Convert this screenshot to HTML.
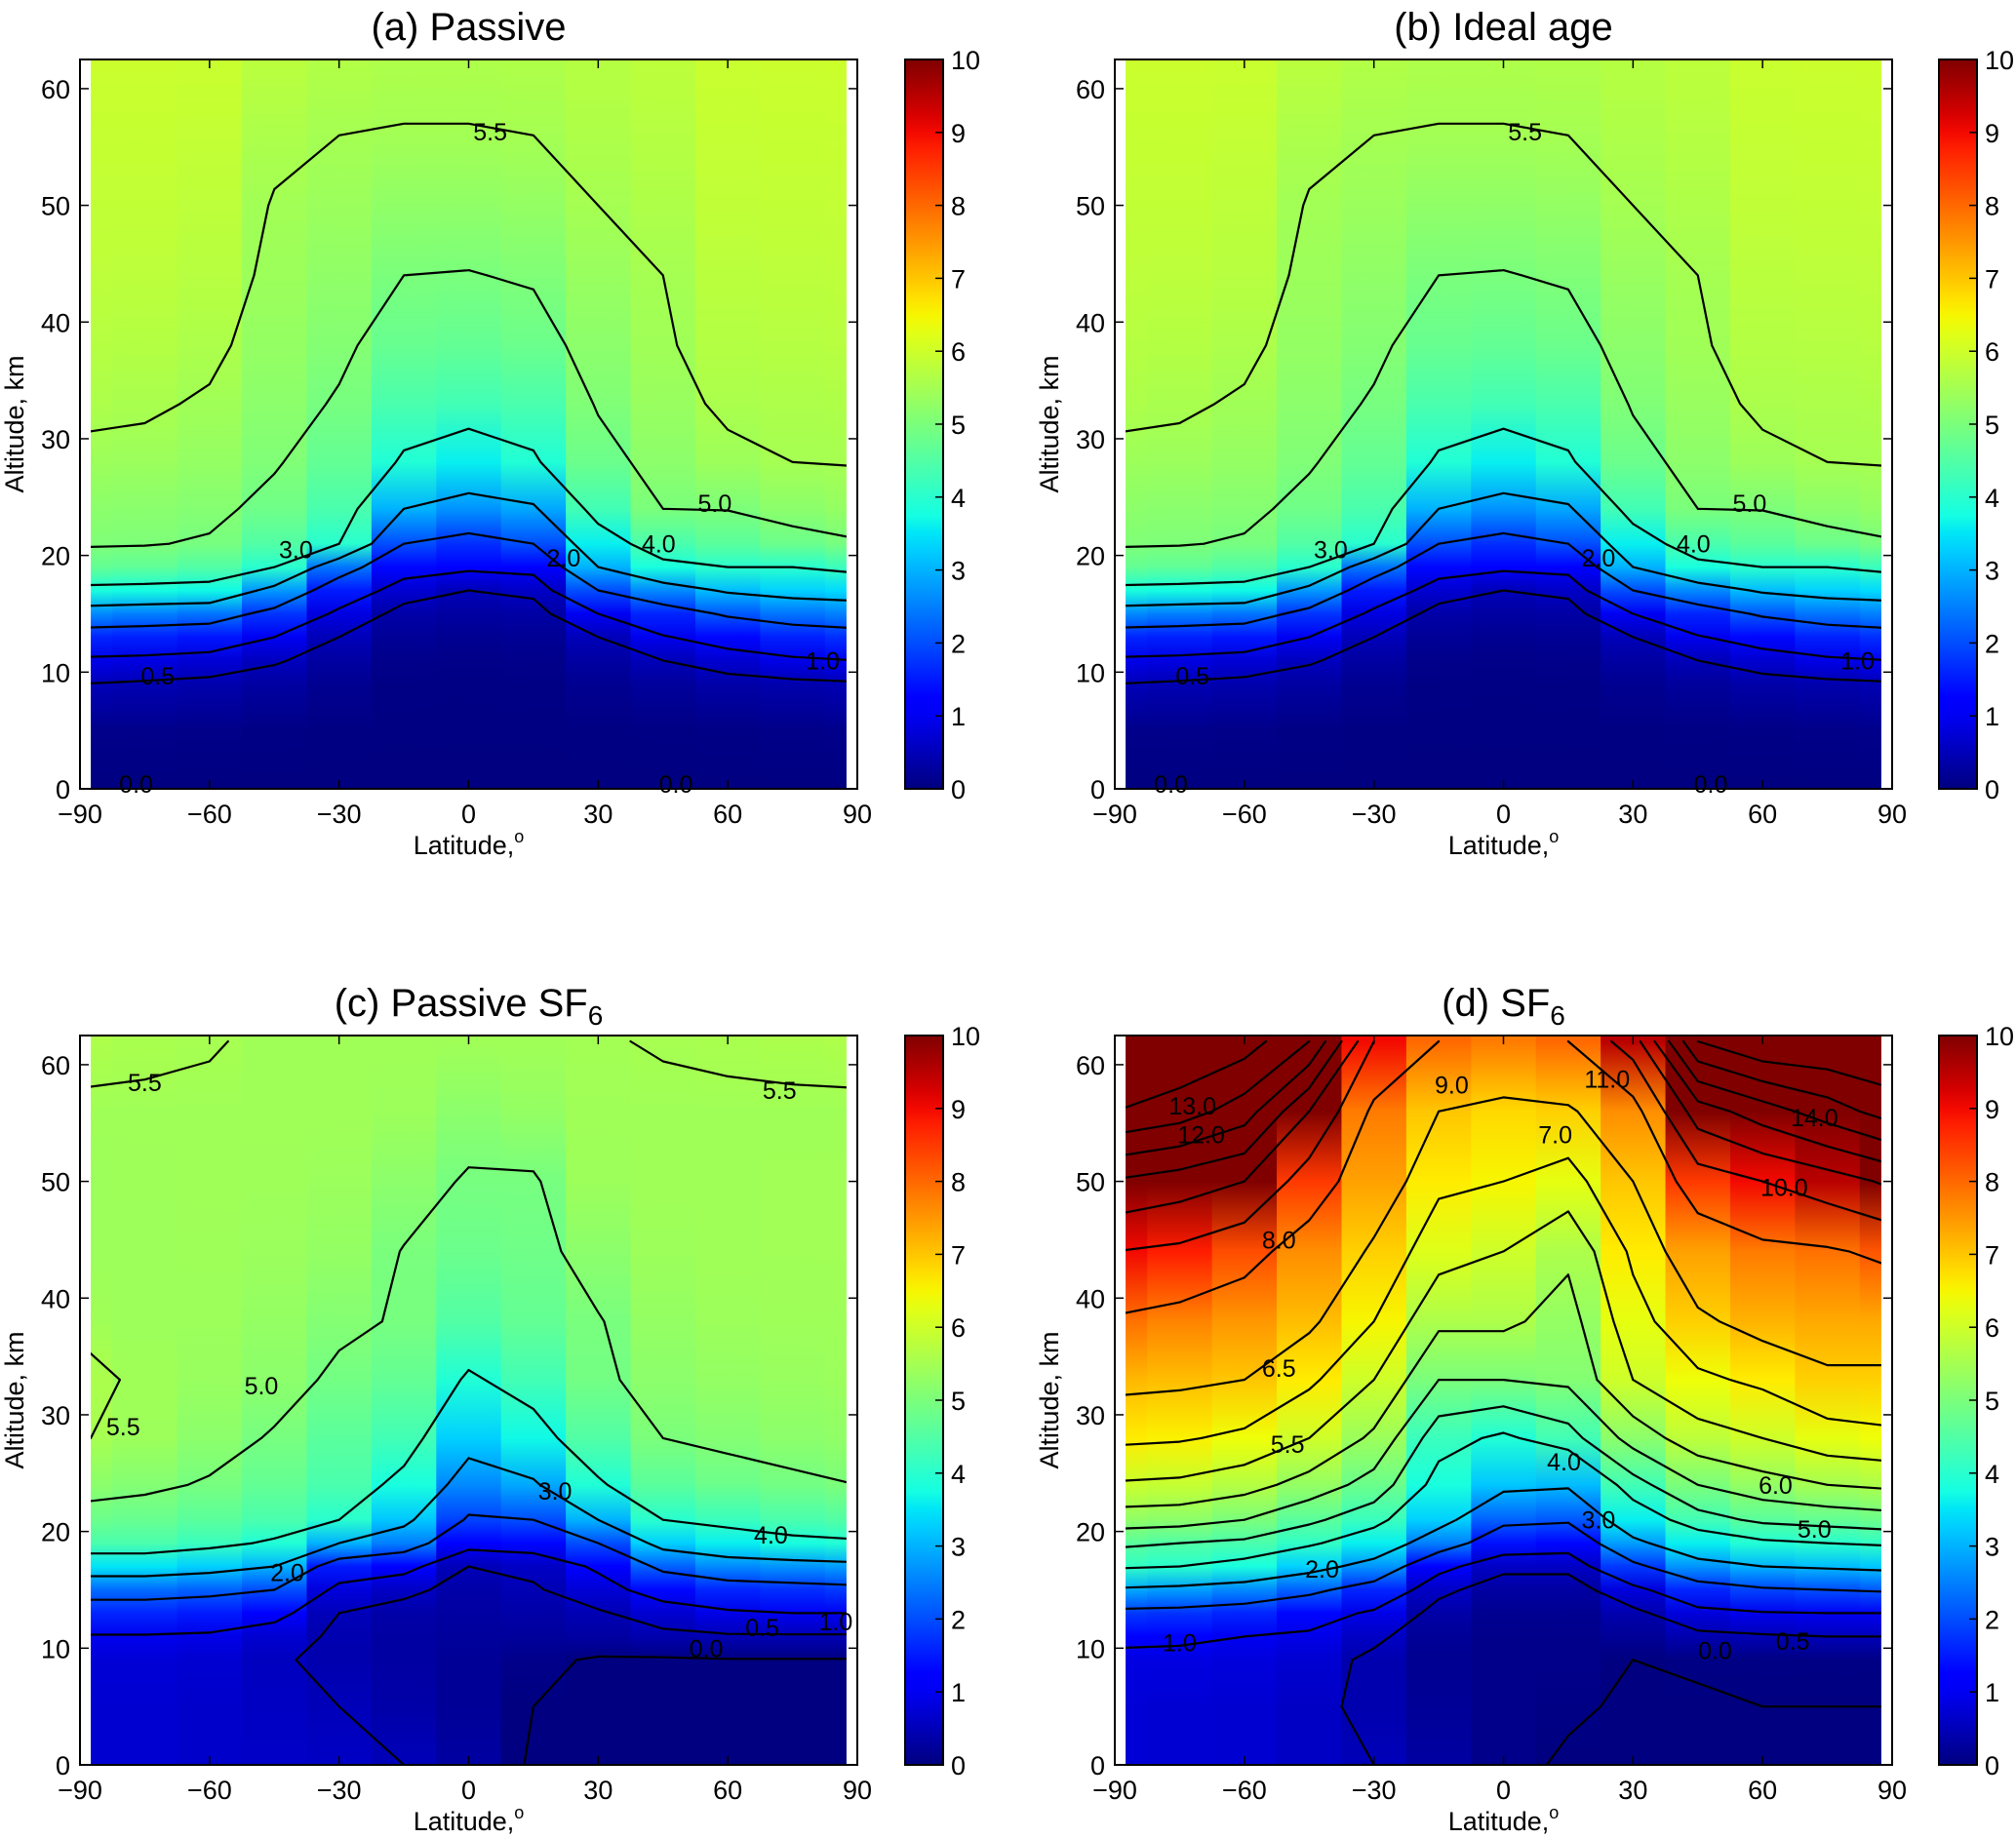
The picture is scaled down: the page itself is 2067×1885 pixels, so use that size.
<!DOCTYPE html>
<html><head><meta charset="utf-8"><style>
html,body{margin:0;padding:0;background:#fff;}
svg{display:block;font-family:"Liberation Sans","DejaVu Sans",sans-serif;}
</style></head><body>
<svg id="fig" width="2067" height="1885" viewBox="0 0 2067 1885" xmlns="http://www.w3.org/2000/svg">
<defs id="defs"></defs>
</svg>
<script>
const LATS=[-90,-75,-60,-45,-30,-15,0,15,30,45,60,75,90];
const ALTS=[0,5,9,11,13,15,17,19,21,24,28,33,38,44,50,56,62];
const XTICKS=[-90,-60,-30,0,30,60,90];
const YTICKS=[0,10,20,30,40,50,60];
const CBTICKS=[0,1,2,3,4,5,6,7,8,9,10];
// values per latitude column (rows follow ALTS)
const passiveVals=[
[0,0.1,0.5,0.9,1.6,2.6,3.8,4.7,5.05,5.2,5.4,5.6,5.7,5.8,5.85,5.9,5.95],
[0,0.1,0.45,0.85,1.55,2.5,3.75,4.65,5.03,5.18,5.38,5.56,5.68,5.78,5.85,5.9,5.95],
[0,0.08,0.4,0.75,1.45,2.4,3.7,4.5,4.95,5.12,5.3,5.45,5.6,5.72,5.8,5.87,5.93],
[0,0.05,0.3,0.55,1.0,1.75,2.75,4.0,4.5,4.85,5.05,5.2,5.3,5.4,5.47,5.6,5.75],
[0,0.03,0.15,0.3,0.5,0.85,1.5,2.4,4.0,4.4,4.7,4.95,5.1,5.25,5.38,5.5,5.65],
[0,0.02,0.05,0.1,0.2,0.35,0.7,1.3,2.0,3.0,3.9,4.4,4.75,5.0,5.25,5.48,5.6],
[0,0.02,0.04,0.08,0.15,0.3,0.5,1.1,1.7,2.7,3.6,4.3,4.7,4.98,5.25,5.48,5.6],
[0,0.02,0.05,0.1,0.18,0.32,0.6,1.2,2.0,2.9,3.9,4.4,4.8,5.05,5.3,5.5,5.62],
[0,0.03,0.15,0.3,0.5,1.0,2.0,3.0,3.6,4.3,4.8,5.05,5.2,5.35,5.5,5.62,5.7],
[0,0.04,0.25,0.5,0.95,1.6,2.6,3.8,4.4,5.0,5.2,5.35,5.45,5.5,5.62,5.7,5.78],
[0,0.06,0.35,0.7,1.3,2.1,3.1,4.0,4.6,5.02,5.4,5.58,5.68,5.76,5.83,5.88,5.93],
[0,0.08,0.4,0.9,1.55,2.4,3.3,4.0,4.8,5.2,5.5,5.6,5.7,5.78,5.85,5.9,5.95],
[0,0.1,0.45,1.0,1.7,2.5,3.4,4.2,4.95,5.3,5.52,5.62,5.72,5.8,5.86,5.91,5.96]];
const ageVals=[
[0,0.1,0.5,0.9,1.6,2.6,3.8,4.7,5.05,5.2,5.4,5.6,5.7,5.8,5.85,5.9,5.95],
[0,0.1,0.45,0.85,1.55,2.5,3.75,4.65,5.03,5.18,5.38,5.56,5.68,5.78,5.85,5.9,5.95],
[0,0.08,0.4,0.75,1.45,2.4,3.7,4.5,4.95,5.12,5.3,5.45,5.6,5.72,5.8,5.87,5.93],
[0,0.05,0.3,0.55,1.0,1.75,2.75,4.0,4.5,4.85,5.05,5.2,5.3,5.4,5.47,5.6,5.75],
[0,0.03,0.15,0.3,0.5,0.85,1.5,2.4,4.0,4.4,4.7,4.95,5.1,5.25,5.38,5.5,5.65],
[0,0.02,0.05,0.1,0.2,0.35,0.7,1.3,2.0,3.0,3.9,4.4,4.75,5.0,5.25,5.48,5.6],
[0,0.02,0.04,0.08,0.15,0.3,0.5,1.1,1.7,2.7,3.6,4.3,4.7,4.98,5.25,5.48,5.6],
[0,0.02,0.05,0.1,0.18,0.32,0.6,1.2,2.0,2.9,3.9,4.4,4.8,5.05,5.3,5.5,5.62],
[0,0.03,0.15,0.3,0.5,1.0,2.0,3.0,3.6,4.3,4.8,5.05,5.2,5.35,5.5,5.62,5.7],
[0,0.04,0.25,0.5,0.95,1.6,2.6,3.8,4.4,5.0,5.2,5.35,5.45,5.5,5.62,5.7,5.78],
[0,0.06,0.35,0.7,1.3,2.1,3.1,4.0,4.6,5.02,5.4,5.58,5.68,5.76,5.83,5.88,5.93],
[0,0.08,0.4,0.9,1.55,2.4,3.3,4.0,4.8,5.2,5.5,5.6,5.7,5.78,5.85,5.9,5.95],
[0,0.1,0.45,1.0,1.7,2.5,3.4,4.2,4.95,5.3,5.52,5.62,5.72,5.8,5.86,5.91,5.96]];
const passiveSf6Vals=[
[0.7,0.7,0.75,0.95,1.6,2.3,3.5,4.4,4.8,5.2,5.52,5.58,5.45,5.4,5.4,5.45,5.6],
[0.7,0.7,0.75,0.95,1.6,2.3,3.5,4.4,4.75,5.1,5.4,5.45,5.4,5.4,5.42,5.45,5.56],
[0.65,0.65,0.7,0.9,1.5,2.2,3.3,4.2,4.6,4.95,5.2,5.35,5.4,5.42,5.45,5.45,5.52],
[0.62,0.58,0.55,0.7,1.2,2.0,3.0,3.9,4.4,4.7,4.95,5.2,5.3,5.38,5.42,5.45,5.45],
[0.6,0.5,0.4,0.42,0.5,0.8,1.5,3.0,4.0,4.4,4.6,4.9,5.1,5.3,5.38,5.45,5.45],
[0.5,0.35,0.3,0.3,0.35,0.6,1.2,2.5,3.2,3.8,4.3,4.7,4.95,4.98,5.2,5.4,5.45],
[0.3,0.2,0.2,0.25,0.3,0.35,0.5,1.2,1.9,2.6,3.3,3.9,4.5,4.8,4.95,5.2,5.45],
[-0.05,0.0,0.1,0.25,0.35,0.45,0.6,1.3,2.0,2.9,3.7,4.3,4.7,4.85,4.95,5.3,5.45],
[-0.1,-0.1,-0.05,0.3,0.45,0.75,1.1,2.0,3.0,3.9,4.5,4.9,4.97,5.2,5.4,5.45,5.48],
[-0.1,-0.1,-0.05,0.4,0.7,1.3,2.2,3.3,4.0,4.6,5.0,5.2,5.3,5.4,5.45,5.45,5.52],
[-0.1,-0.1,-0.02,0.45,0.9,1.6,2.6,3.6,4.2,4.8,5.1,5.3,5.4,5.45,5.45,5.45,5.55],
[-0.1,-0.1,-0.02,0.45,1.0,1.7,2.7,3.8,4.4,4.9,5.2,5.35,5.42,5.46,5.46,5.45,5.58],
[-0.1,-0.1,-0.02,0.45,1.0,1.8,2.8,3.9,4.5,5.0,5.25,5.38,5.42,5.46,5.46,5.45,5.6]];
const sf6Vals=[
[0.75,0.75,0.85,1.15,1.8,2.9,4.1,4.6,5.25,5.95,6.6,7.15,7.9,9.0,10.9,14,15],
[0.72,0.72,0.85,1.1,1.75,2.8,4.0,4.5,5.2,5.9,6.55,7.1,7.7,8.8,10.5,13.5,15],
[0.7,0.7,0.8,1.0,1.6,2.6,3.8,4.4,5.0,5.7,6.4,7.0,7.5,8.3,10.0,12.5,14.5],
[0.6,0.6,0.7,0.9,1.3,2.2,3.3,4.1,4.6,5.3,6.0,6.6,7.1,7.6,8.5,10,13],
[0.5,0.4,0.4,0.6,0.9,1.6,2.7,3.6,4.2,4.8,5.4,6.0,6.5,6.9,7.4,7.8,9],
[0.3,0.2,0.15,0.2,0.35,0.6,1.2,2.5,3.3,3.8,4.2,5.0,5.6,6.2,6.6,7.0,8],
[0.1,0.1,0.1,0.1,0.15,0.3,0.6,1.4,2.2,3.2,3.9,5.0,5.6,6.0,6.5,6.8,7.8],
[-0.05,0.05,0.1,0.1,0.15,0.3,0.6,1.3,2.1,3.1,4.3,5.1,5.3,5.6,6.3,6.9,8.0],
[-0.05,-0.05,0.0,0.2,0.4,0.8,1.8,2.8,3.6,4.3,5.2,6.0,6.3,6.6,7.0,7.6,9.5],
[-0.05,-0.05,0.05,0.4,0.8,1.6,2.7,3.6,4.3,5.0,5.8,6.4,6.9,7.4,8.5,10.5,14],
[0.0,0.0,0.05,0.45,0.95,1.9,3.0,3.9,4.6,5.3,6.0,6.6,7.2,7.8,9.0,11.5,15],
[0.0,0.0,0.05,0.5,1.0,2.0,3.1,4.0,4.7,5.5,6.3,6.9,7.3,7.9,9.5,12.5,15],
[0.0,0.0,0.05,0.5,1.0,2.1,3.2,4.1,4.8,5.6,6.4,6.9,7.3,8.2,10.2,13.5,15]];
const levelsAB=[0.5,1,2,3,4,5,5.5];
const levelsC=[0,0.5,1,2,3,4,5,5.5];
const levelsD=[0,0.5,1,2,3,4,4.5,5,5.5,6,6.5,7,8,9,10,11,12,13,14];
const labelsA=[["5.5",5,56.3],["5.0",57,24.5],["4.0",44,21],["2.0",22,19.8],["3.0",-40,20.5],["1.0",82,11],["0.5",-72,9.7],["0.0",-77,0.4],["0.0",48,0.4]];
const labelsB=[["5.5",5,56.3],["5.0",57,24.5],["4.0",44,21],["2.0",22,19.8],["3.0",-40,20.5],["1.0",82,11],["0.5",-72,9.7],["0.0",-77,0.4],["0.0",48,0.4]];
const labelsC=[["5.5",-75,58.5],["5.5",72,57.8],["5.0",-48,32.5],["5.5",-80,29],["3.0",20,23.5],["4.0",70,19.7],["2.0",-42,16.5],["0.5",68,11.8],["1.0",85,12.3],["0.0",55,10]];
const labelsD=[["13.0",-72,56.5],["12.0",-70,54],["9.0",-12,58.3],["11.0",24,58.8],["14.0",72,55.5],["7.0",12,54],["10.0",65,49.5],["8.0",-52,45],["6.5",-52,34],["5.5",-50,27.5],["4.0",14,26],["3.0",22,21],["6.0",63,24],["5.0",72,20.2],["2.0",-42,16.8],["1.0",-75,10.5],["0.5",67,10.6],["0.0",49,9.8]];

const panels=[
 {key:"a",title:"(a) Passive",sub:"",vals:passiveVals,levels:levelsAB,labels:labelsA,x0:82,x1:879,y0:61,y1:809,cb:928},
 {key:"b",title:"(b) Ideal age",sub:"",vals:ageVals,levels:levelsAB,labels:labelsB,x0:1143,x1:1940,y0:61,y1:809,cb:1988},
 {key:"c",title:"(c) Passive SF",sub:"6",vals:passiveSf6Vals,levels:levelsC,labels:labelsC,x0:82,x1:879,y0:1062,y1:1810,cb:928},
 {key:"d",title:"(d) SF",sub:"6",vals:sf6Vals,levels:levelsD,labels:labelsD,x0:1143,x1:1940,y0:1062,y1:1810,cb:1988}
];
const NS="http://www.w3.org/2000/svg";
const svg=document.getElementById('fig');
const defs=document.getElementById('defs');
function mk(tag,attrs,parent){const e=document.createElementNS(NS,tag);for(const k in attrs)e.setAttribute(k,attrs[k]);(parent||svg).appendChild(e);return e;}
function interp(pts,t){if(t<=pts[0][0])return pts[0][1];for(let i=1;i<pts.length;i++){if(t<=pts[i][0]){const a=pts[i-1],b=pts[i];return a[1]+(b[1]-a[1])*(t-a[0])/(b[0]-a[0]);}}return pts[pts.length-1][1];}
function jet(v){let t=Math.max(0,Math.min(1,v/10));
 const r=interp([[0,0],[0.35,0],[0.66,1],[0.89,1],[1,0.5]],t);
 const g=interp([[0,0],[0.125,0],[0.375,1],[0.64,1],[0.91,0],[1,0]],t);
 const b=interp([[0,0.5],[0.11,1],[0.34,1],[0.65,0],[1,0]],t);
 return `rgb(${Math.round(r*255)},${Math.round(g*255)},${Math.round(b*255)})`;}
const YMAX=62.5;
panels.forEach(p=>{
 const sx=lat=>p.x0+(lat+90)/180*(p.x1-p.x0);
 const sy=alt=>p.y1-alt/YMAX*(p.y1-p.y0);
 const g=mk('g',{});
 
 
 const clipId='clip'+p.key;
 const cp=mk('clipPath',{id:clipId},defs);
 mk('rect',{x:sx(-87.5),y:p.y0,width:sx(87.5)-sx(-87.5),height:p.y1-p.y0},cp);
 const hm=mk('g',{'clip-path':`url(#${clipId})`},g);
 
 
 LATS.forEach((lat,i)=>{
  const gid='grad'+p.key+i;
  const lg=mk('linearGradient',{id:gid,x1:0,y1:1,x2:0,y2:0},defs);
  ALTS.forEach((alt,j)=>{mk('stop',{offset:(alt/YMAX).toFixed(4),'stop-color':jet(p.vals[i][j])},lg);});
  const l0=i===0?-90:(LATS[i-1]+lat)/2, l1=i===LATS.length-1?90:(LATS[i+1]+lat)/2;
  const r=mk('rect',{x:sx(l0),y:p.y0,width:sx(l1)-sx(l0)+0.5,height:p.y1-p.y0,fill:`url(#${gid})`},hm);
  
  
 });
 const cg=mk('g',{'clip-path':`url(#${clipId})`,fill:'none',stroke:'#000','stroke-width':2.2},g);
 
 
 p.levels.forEach(L=>{
  let d='';
  for(let i=0;i<LATS.length-1;i++)for(let j=0;j<ALTS.length-1;j++){
   const v00=p.vals[i][j],v10=p.vals[i+1][j],v11=p.vals[i+1][j+1],v01=p.vals[i][j+1];
   const pts=[];
   const edge=(va,vb,xa,ya,xb,yb)=>{if((va>L)!==(vb>L)){const t=(L-va)/(vb-va);pts.push([sx(xa+(xb-xa)*t),sy(ya+(yb-ya)*t)]);}};
   const la=LATS[i],lb=LATS[i+1],aa=ALTS[j],ab=ALTS[j+1];
   edge(v00,v10,la,aa,lb,aa);
   edge(v10,v11,lb,aa,lb,ab);
   edge(v01,v11,la,ab,lb,ab);
   edge(v00,v01,la,aa,la,ab);
   if(pts.length===2)d+=`M${pts[0][0].toFixed(1)} ${pts[0][1].toFixed(1)}L${pts[1][0].toFixed(1)} ${pts[1][1].toFixed(1)}`;
   else if(pts.length===4)d+=`M${pts[0][0].toFixed(1)} ${pts[0][1].toFixed(1)}L${pts[3][0].toFixed(1)} ${pts[3][1].toFixed(1)}M${pts[1][0].toFixed(1)} ${pts[1][1].toFixed(1)}L${pts[2][0].toFixed(1)} ${pts[2][1].toFixed(1)}`;
  }
  if(d){const pa=mk('path',{d:d,'stroke-linejoin':'round','stroke-linecap':'round'},cg);
   
   }
 });
 p.labels.forEach(lb=>{
  const t=mk('text',{x:sx(lb[1]),y:sy(lb[2])+9,'text-anchor':'middle','font-size':25,fill:'#000'},g);
  t.textContent=lb[0];
  
  
 });
 const fr=mk('rect',{x:p.x0,y:p.y0,width:p.x1-p.x0,height:p.y1-p.y0,fill:'none',stroke:'#000','stroke-width':2},g);
 
 
 XTICKS.forEach(v=>{const x=sx(v);
  mk('line',{x1:x,y1:p.y1,x2:x,y2:p.y1-9,stroke:'#000','stroke-width':1.5},g);
  mk('line',{x1:x,y1:p.y0,x2:x,y2:p.y0+9,stroke:'#000','stroke-width':1.5},g);
  const t=mk('text',{x:x,y:p.y1+35,'text-anchor':'middle','font-size':27},g);
  t.textContent=v<0?'\u2212'+Math.abs(v):String(v);
  
  });
 YTICKS.forEach(v=>{const y=sy(v);
  mk('line',{x1:p.x0,y1:y,x2:p.x0+9,y2:y,stroke:'#000','stroke-width':1.5},g);
  mk('line',{x1:p.x1,y1:y,x2:p.x1-9,y2:y,stroke:'#000','stroke-width':1.5},g);
  const t=mk('text',{x:p.x0-10,y:y+10,'text-anchor':'end','font-size':27},g);
  t.textContent=String(v);
  
  });
 const xl=mk('text',{x:(p.x0+p.x1)/2,y:p.y1+67,'text-anchor':'middle','font-size':27},g);
 xl.innerHTML='Latitude,<tspan dy="-12" font-size="18">o</tspan>';
 
 
 const yl=mk('text',{x:0,y:0,'text-anchor':'middle','font-size':27,transform:`translate(${p.x0-58},${(p.y0+p.y1)/2}) rotate(-90)`},g);
 yl.textContent='Altitude, km';
 
 
 const ti=mk('text',{x:(p.x0+p.x1)/2,y:p.y0-20,'text-anchor':'middle','font-size':40},g);
 ti.innerHTML=p.title+(p.sub?`<tspan dy="9" font-size="28">${p.sub}</tspan>`:'');
 
 
 const cbId='cbg'+p.key;
 const cl=mk('linearGradient',{id:cbId,x1:0,y1:1,x2:0,y2:0},defs);
 for(let k=0;k<=40;k++){mk('stop',{offset:k/40,'stop-color':jet(k/4)},cl);}
 const cb=mk('rect',{x:p.cb,y:p.y0,width:39,height:p.y1-p.y0,fill:`url(#${cbId})`,stroke:'#000','stroke-width':2},g);
 
 
 CBTICKS.forEach(v=>{const y=p.y1-v/10*(p.y1-p.y0);
  mk('line',{x1:p.cb+39,y1:y,x2:p.cb+31,y2:y,stroke:'#000','stroke-width':1.5},g);
  const t=mk('text',{x:p.cb+47,y:y+10,'font-size':27},g);
  t.textContent=String(v);
  
  });
});
</script>
</body></html>
